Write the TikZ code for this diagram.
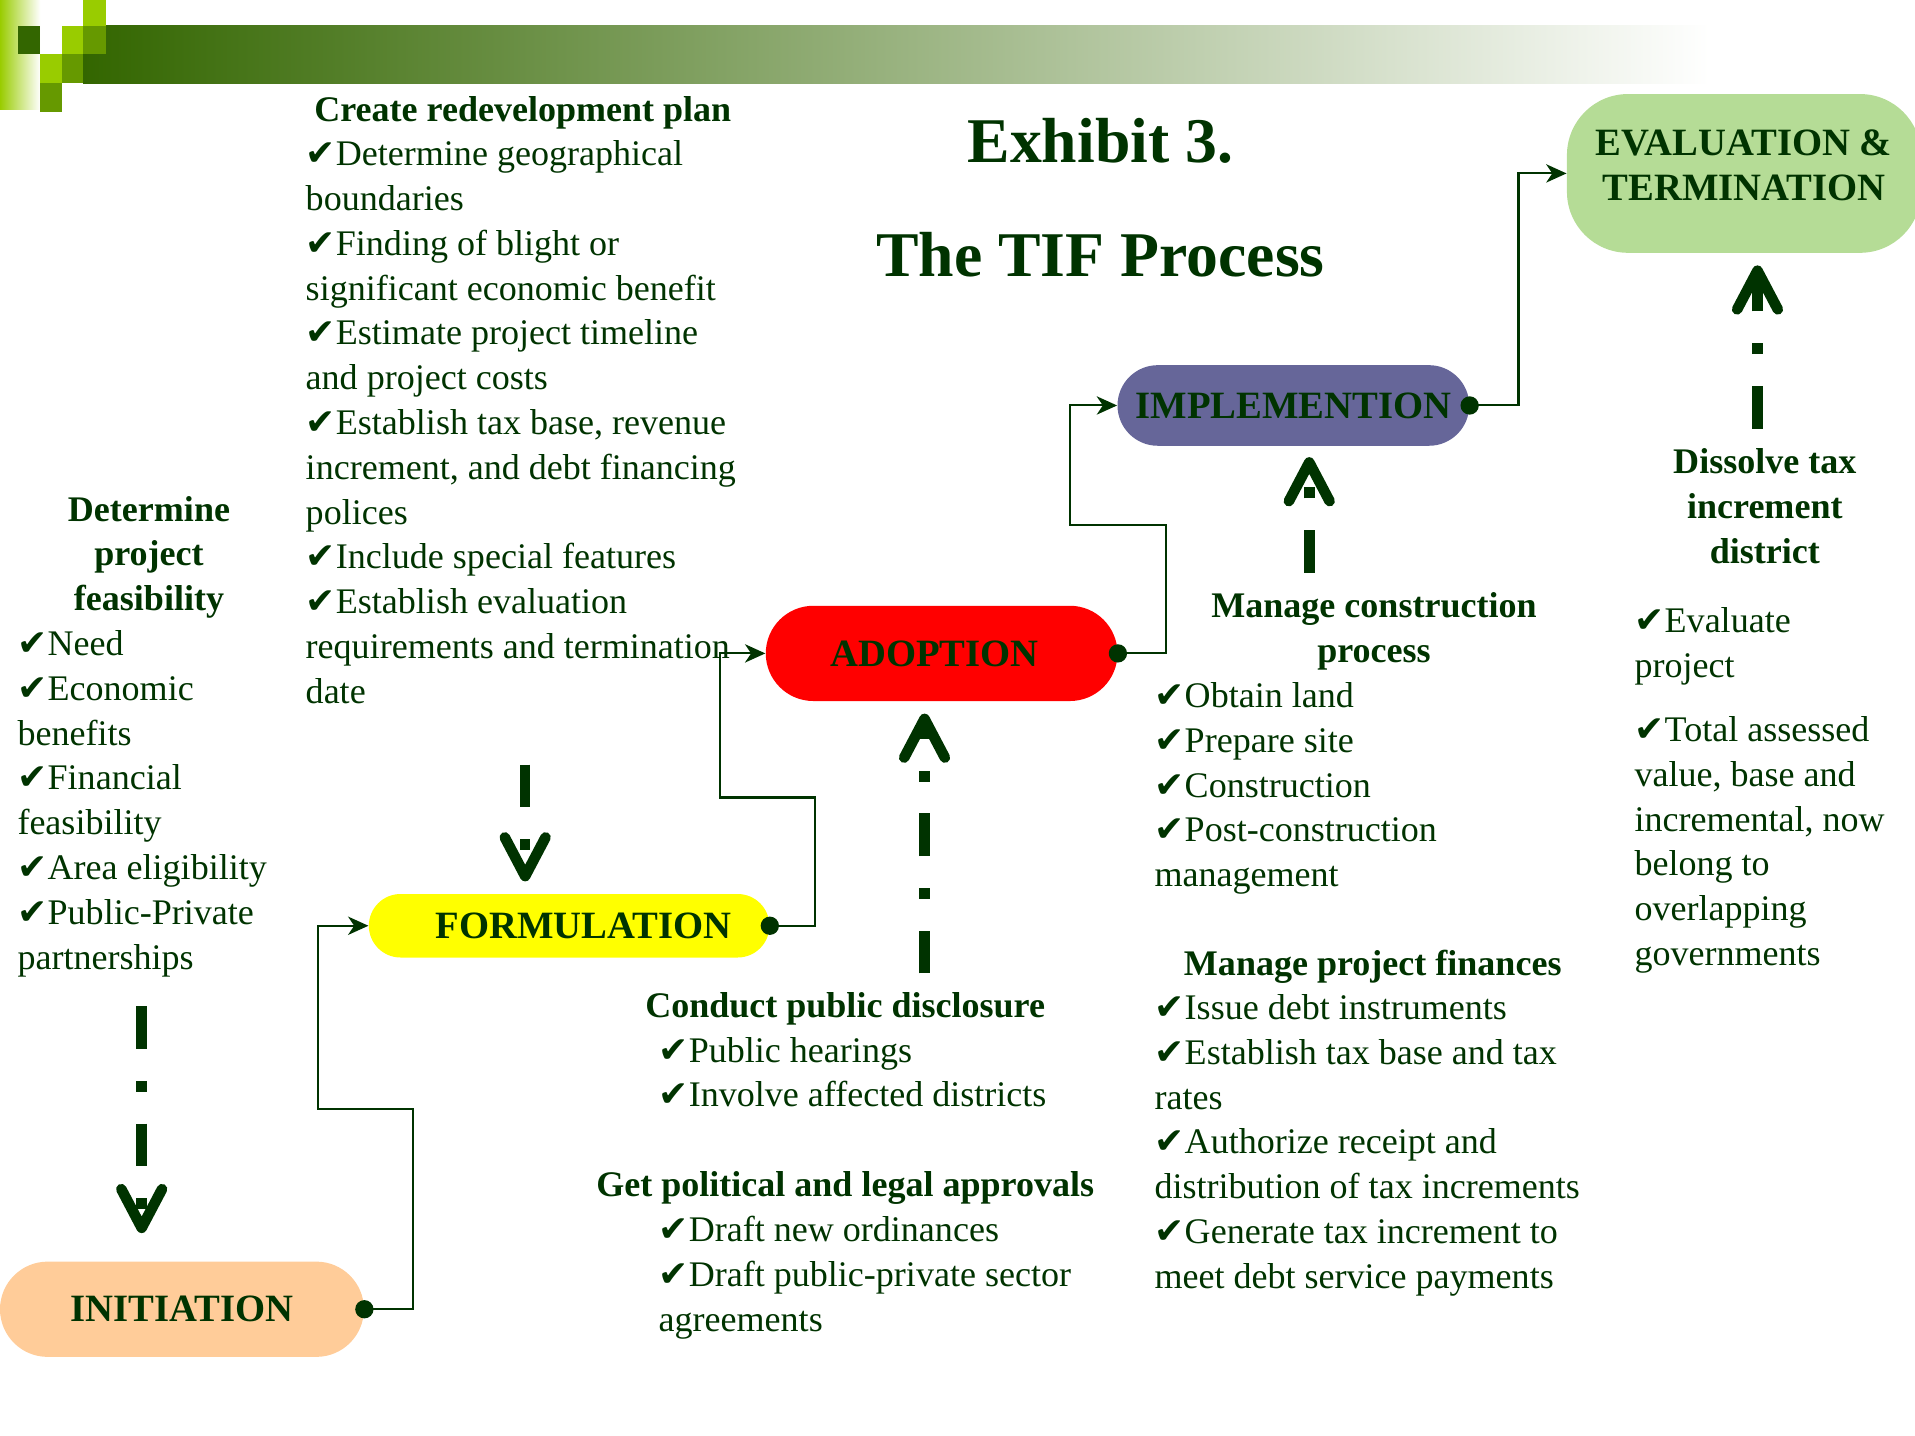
\documentclass[tikz,border=0pt]{standalone}
\usepackage{fontspec}
\setmainfont{Liberation Serif}
\newfontfamily\checkfont{DejaVu Sans}
\usetikzlibrary{arrows.meta, positioning}

\definecolor{tifgreen}{HTML}{003300}
\definecolor{sqlight}{HTML}{99CC00}
\definecolor{sqmid}{HTML}{669900}
\definecolor{sqdark}{HTML}{336600}
\definecolor{barmid}{HTML}{A7B59D}
\definecolor{initfill}{HTML}{FFCC99}
\definecolor{formfill}{HTML}{FFFF00}
\definecolor{adoptfill}{HTML}{FF0000}
\definecolor{implfill}{HTML}{666699}
\definecolor{evalfill}{HTML}{B5DC96}

\newcommand{\chk}{{\checkfont ✔}}
\newcommand{\bodysize}{\fontsize{17.7}{22}\selectfont}

% multi-line nodes are placed by the baseline of their last line
\tikzset{
  stage/.style={text=tifgreen, font=\fontsize{19}{22.2}\selectfont\bfseries, inner sep=0pt, align=center},
  body/.style={text=tifgreen, font=\bodysize, inner sep=0pt, align=left, anchor=base west},
  head/.style={text=tifgreen, font=\bodysize\bfseries, inner sep=0pt, align=center, anchor=base},
  title/.style={text=tifgreen, font=\fontsize{31.3}{36}\selectfont\bfseries, inner sep=0pt, anchor=base},
  link/.style={draw=tifgreen, line width=1pt, -{Stealth[length=10pt,width=9pt,inset=3pt]}},
  bigarrow/.style={draw=tifgreen, line width=5.2pt,
    dash pattern=on 21pt off 15.6pt on 5.4pt off 15.6pt,
    -{Straight Barb[length=19pt,width=20pt,line cap=round,line join=round]}}
}

\begin{document}
\begin{tikzpicture}[x=0.6pt, y=-0.6pt]
  \useasboundingbox (0,0) rectangle (1568,1175);

  % banner and squares
  \shade[left color=sqlight, right color=white] (0,0) rectangle (33,90);
  \shade[left color=sqdark, middle color=barmid, right color=white] (68,21) rectangle (1400,68);
  \fill[sqdark] (15,21) rectangle (33,44.5);
  \fill[sqlight] (68,0) rectangle (86.5,21);
  \fill[sqlight] (51,21) rectangle (68,44.5);
  \fill[sqmid] (68,21) rectangle (86.5,44.5);
  \fill[sqlight] (33,44.5) rectangle (51,68);
  \fill[sqmid] (51,44.5) rectangle (68,68);
  \fill[sqmid] (33,68) rectangle (51,91.5);

  % title
  \node[title] (exhibit) at (901,133) {Exhibit 3.};
  \node[title] (tifproc) at (901,226) {The TIF Process};

  % stages
  \node[stage, fill=initfill, minimum width=178.8pt, minimum height=46.8pt, rounded corners=23.4pt] (initiation) at (149,1072) {INITIATION};
  \node[stage, fill=formfill, minimum width=196.8pt, minimum height=31.2pt, rounded corners=15.6pt] (formulation) at (466,758) {\hspace*{14pt}FORMULATION};
  \node[stage, fill=adoptfill, minimum width=172.8pt, minimum height=46.8pt, rounded corners=23.4pt] (adoption) at (771,535) {\hspace*{-7pt}ADOPTION};
  \node[stage, fill=implfill, minimum width=172.8pt, minimum height=39.6pt, rounded corners=19.8pt] (implemention) at (1059,332) {IMPLEMENTION};
  \node[stage, fill=evalfill, minimum width=174pt, minimum height=78pt, rounded corners=30pt, text depth=8pt] (evaluation) at (1428,142) {EVALUATION \&\\TERMINATION};

  % connectors
  \draw[link] (initiation.east) -| ++(40,-164) -- ++(-78,0) |- (formulation.west);
  \draw[link] (formulation.east) -| ++(37,-105) -- ++(-78,0) |- (adoption.west);
  \draw[link] (adoption.east) -| ++(39,-105) -- ++(-78,0) |- (implemention.west);
  \draw[link] (implemention.east) -| ++(40,-190) -- (evaluation.west);
  \foreach \s in {initiation,formulation,adoption,implemention}
    \fill[tifgreen] (\s.east) circle (4.5pt);

  % text blocks
  \node[head] (feasHead) at (122,500) {Determine\\project\\feasibility};
  \node[body] (feasList) at (14,793.5) {\chk Need\\\chk Economic\\benefits\\\chk Financial\\feasibility\\\chk Area eligibility\\\chk Public-Private\\partnerships};

  \node[head, anchor=base west] (planHead) at (257,99.5) {Create redevelopment plan};
  \node[body] (planList) at (250,575.8) {\chk Determine geographical\\boundaries\\\chk Finding of blight or\\significant economic benefit\\\chk Estimate project timeline\\and project costs\\\chk Establish tax base, revenue\\increment, and debt financing\\polices\\\chk Include special features\\\chk Establish evaluation\\requirements and termination\\date};

  \node[head] (discHead) at (692,833.5) {Conduct public disclosure};
  \node[body] (discList) at (539,906.3) {\chk Public hearings\\\chk Involve affected districts};

  \node[head] (apprHead) at (692,979.5) {Get political and legal approvals};
  \node[body] (apprList) at (539,1090.2) {\chk Draft new ordinances\\\chk Draft public-private sector\\agreements};

  \node[head] (consHead) at (1125,542.3) {Manage construction\\process};
  \node[body] (consList) at (945,726) {\chk Obtain land\\\chk Prepare site\\\chk Construction\\\chk Post-construction\\management};

  \node[head] (finHead) at (1124,798.5) {Manage project finances};
  \node[body] (finList) at (945,1054.8) {\chk Issue debt instruments\\\chk Establish tax base and tax\\rates\\\chk Authorize receipt and\\distribution of tax increments\\\chk Generate tax increment to\\meet debt service payments};

  \node[head] (dissHead) at (1445,461) {Dissolve tax\\increment\\district};
  \node[body] (dissList) at (1338,790.5) {\chk Evaluate\\project\\[9.6pt]\chk Total assessed\\value, base and\\incremental, now\\belong to\\overlapping\\governments};

  % big dashed arrows
  \coordinate (feasTail) at (116,824);
  \coordinate (planTail) at (430,626);
  \coordinate (discTail) at (757,797);
  \coordinate (consTail) at (1072,469);
  \coordinate (dissTail) at (1439,351);
  \draw[bigarrow, shorten >=13.8pt] (feasTail) -- (feasTail |- initiation.north);
  \draw[bigarrow, shorten >=6pt] (planTail) -- (planTail |- formulation.north);
  \draw[bigarrow, shorten >=6pt] (discTail) -- (discTail |- adoption.south);
  \draw[bigarrow, shorten >=5.4pt] (consTail) -- (consTail |- implemention.south);
  \draw[bigarrow, shorten >=6pt] (dissTail) -- (dissTail |- evaluation.south);
\end{tikzpicture}
\end{document}
